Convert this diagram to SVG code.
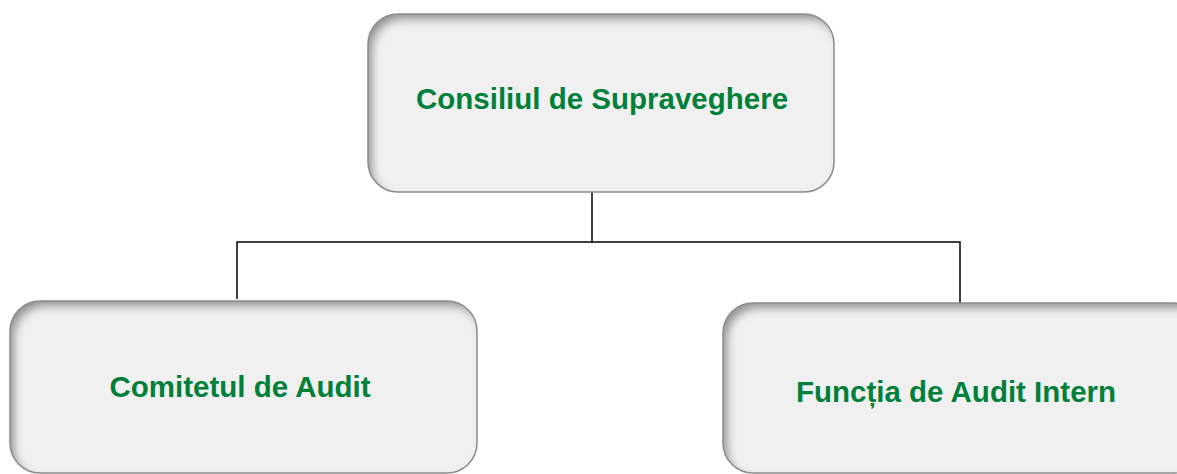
<svg xmlns="http://www.w3.org/2000/svg" width="1177" height="474" viewBox="0 0 1177 474">
<defs>
<filter id="inset" x="-10%" y="-10%" width="120%" height="120%">
<feComponentTransfer in="SourceAlpha"><feFuncA type="table" tableValues="1 0"/></feComponentTransfer>
<feGaussianBlur stdDeviation="4"/>
<feOffset dx="5" dy="6" result="off"/>
<feFlood flood-color="#000" flood-opacity="0.65"/>
<feComposite in2="off" operator="in"/>
<feComposite in2="SourceAlpha" operator="in" result="shadow"/>
<feMerge><feMergeNode in="SourceGraphic"/><feMergeNode in="shadow"/></feMerge>
</filter>
</defs>
<style>
.box{fill:#f0f0f0;filter:url(#inset)}
.edge{fill:none;stroke:#8c8c8c;stroke-width:1.5}
.lbl{font-family:"Liberation Sans",Arial,sans-serif;font-weight:bold;font-size:29.5px;fill:#00803a;text-anchor:middle}
.conn{fill:none;stroke:#000;stroke-width:1.5}
</style>
<rect width="1177" height="474" fill="#fff"/>
<g id="connectors">
<path class="conn" d="M592,192 V243"/>
<path class="conn" d="M237,299 V242 H960 V305"/>
</g>
<g id="consiliul">
<rect class="box" x="368" y="14" width="466" height="178" rx="30"/>
<rect class="edge" x="368" y="14" width="466" height="178" rx="30"/>
<text class="lbl" x="602" y="109">Consiliul de Supraveghere</text>
</g>
<g id="comitetul">
<rect class="box" x="10" y="301" width="467" height="172" rx="30"/>
<rect class="edge" x="10" y="301" width="467" height="172" rx="30"/>
<text class="lbl" x="240" y="397">Comitetul de Audit</text>
</g>
<g id="functia">
<rect class="box" x="723" y="303" width="480" height="170" rx="30"/>
<rect class="edge" x="723" y="303" width="480" height="170" rx="30"/>
<text class="lbl" x="956" y="402">Funcția de Audit Intern</text>
</g>
</svg>
